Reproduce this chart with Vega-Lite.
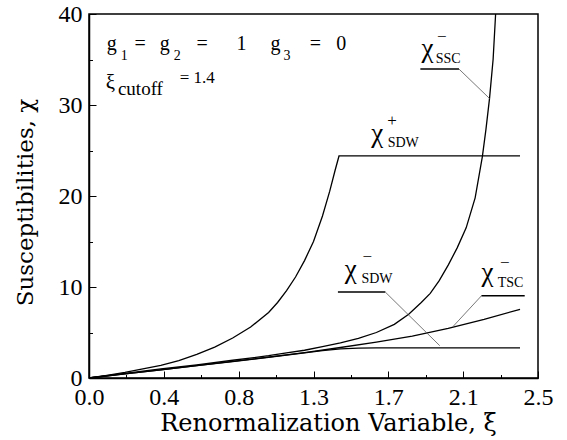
{
  "$schema": "https://vega.github.io/schema/vega-lite/v6.json",
  "width": 449,
  "height": 364,
  "autosize": {"type": "none"},
  "padding": {"left": 89, "top": 14, "right": 29, "bottom": 62},
  "background": "white",
  "config": {
    "view": {"stroke": "black", "strokeWidth": 1.5},
    "axis": {
      "domainColor": "black", "domainWidth": 1.5,
      "tickColor": "black", "tickWidth": 1,
      "labelFont": "Liberation Serif", "labelFontSize": 24, "labelColor": "black",
      "titleFont": "DejaVu Serif", "titleFontSize": 23, "titleFontWeight": "normal", "titleColor": "black",
      "grid": false, "labelOverlap": false, "labelFlush": false
    }
  },
  "datasets": {
    "curves": [
      {"s": "SDWp", "x": 0, "y": 0}, {"s": "SDWp", "x": 0.1, "y": 0.3}, {"s": "SDWp", "x": 0.2, "y": 0.62}, {"s": "SDWp", "x": 0.3, "y": 1.0}, {"s": "SDWp", "x": 0.4, "y": 1.38}, {"s": "SDWp", "x": 0.5, "y": 1.9}, {"s": "SDWp", "x": 0.6, "y": 2.6}, {"s": "SDWp", "x": 0.7, "y": 3.4}, {"s": "SDWp", "x": 0.8, "y": 4.4}, {"s": "SDWp", "x": 0.9, "y": 5.6}, {"s": "SDWp", "x": 1.0, "y": 7.2}, {"s": "SDWp", "x": 1.05, "y": 8.3}, {"s": "SDWp", "x": 1.1, "y": 9.6}, {"s": "SDWp", "x": 1.15, "y": 11.1}, {"s": "SDWp", "x": 1.2, "y": 12.9}, {"s": "SDWp", "x": 1.25, "y": 15.0}, {"s": "SDWp", "x": 1.3, "y": 17.8}, {"s": "SDWp", "x": 1.34, "y": 20.5}, {"s": "SDWp", "x": 1.37, "y": 22.8}, {"s": "SDWp", "x": 1.392, "y": 24.4}, {"s": "SDWp", "x": 2.4, "y": 24.4},
      {"s": "SSC", "x": 0, "y": 0}, {"s": "SSC", "x": 0.2, "y": 0.5}, {"s": "SSC", "x": 0.4, "y": 1.0}, {"s": "SSC", "x": 0.6, "y": 1.45}, {"s": "SSC", "x": 0.8, "y": 1.95}, {"s": "SSC", "x": 1.0, "y": 2.45}, {"s": "SSC", "x": 1.1, "y": 2.75}, {"s": "SSC", "x": 1.2, "y": 3.05}, {"s": "SSC", "x": 1.3, "y": 3.45}, {"s": "SSC", "x": 1.4, "y": 3.85}, {"s": "SSC", "x": 1.5, "y": 4.35}, {"s": "SSC", "x": 1.6, "y": 5.0}, {"s": "SSC", "x": 1.7, "y": 5.9}, {"s": "SSC", "x": 1.78, "y": 7.0}, {"s": "SSC", "x": 1.85, "y": 8.3}, {"s": "SSC", "x": 1.9, "y": 9.3}, {"s": "SSC", "x": 1.95, "y": 10.7}, {"s": "SSC", "x": 2.0, "y": 12.4}, {"s": "SSC", "x": 2.05, "y": 14.3}, {"s": "SSC", "x": 2.1, "y": 16.5}, {"s": "SSC", "x": 2.15, "y": 19.8}, {"s": "SSC", "x": 2.19, "y": 24.3}, {"s": "SSC", "x": 2.21, "y": 27.3}, {"s": "SSC", "x": 2.23, "y": 30.7}, {"s": "SSC", "x": 2.25, "y": 35.0}, {"s": "SSC", "x": 2.264, "y": 40},
      {"s": "TSC", "x": 0, "y": 0}, {"s": "TSC", "x": 0.2, "y": 0.45}, {"s": "TSC", "x": 0.4, "y": 0.9}, {"s": "TSC", "x": 0.6, "y": 1.35}, {"s": "TSC", "x": 0.8, "y": 1.82}, {"s": "TSC", "x": 1.0, "y": 2.3}, {"s": "TSC", "x": 1.2, "y": 2.8}, {"s": "TSC", "x": 1.4, "y": 3.35}, {"s": "TSC", "x": 1.6, "y": 3.95}, {"s": "TSC", "x": 1.8, "y": 4.6}, {"s": "TSC", "x": 2.0, "y": 5.45}, {"s": "TSC", "x": 2.2, "y": 6.45}, {"s": "TSC", "x": 2.4, "y": 7.55},
      {"s": "SDWm", "x": 0, "y": 0}, {"s": "SDWm", "x": 0.2, "y": 0.45}, {"s": "SDWm", "x": 0.4, "y": 0.9}, {"s": "SDWm", "x": 0.6, "y": 1.35}, {"s": "SDWm", "x": 0.8, "y": 1.8}, {"s": "SDWm", "x": 1.0, "y": 2.28}, {"s": "SDWm", "x": 1.2, "y": 2.75}, {"s": "SDWm", "x": 1.3, "y": 3.0}, {"s": "SDWm", "x": 1.4, "y": 3.2}, {"s": "SDWm", "x": 1.5, "y": 3.28}, {"s": "SDWm", "x": 1.6, "y": 3.3}, {"s": "SDWm", "x": 2.4, "y": 3.3}
    ],
    "underlines": [
      {"x": 1.845, "y": 33.95, "x2": 2.06, "y2": 33.95},
      {"x": 1.386, "y": 9.44, "x2": 1.65, "y2": 9.44},
      {"x": 2.185, "y": 9.03, "x2": 2.426, "y2": 9.03}
    ],
    "pointers": [
      {"x": 2.06, "y": 33.95, "x2": 2.231, "y2": 30.7},
      {"x": 1.65, "y": 9.44, "x2": 1.953, "y2": 3.55},
      {"x": 2.185, "y": 9.03, "x2": 2.027, "y2": 5.66}
    ],
    "labels": [
      {"k": "chi", "x": 1.851, "y": 35.27, "t": "χ"},
      {"k": "chi", "x": 1.572, "y": 25.94, "t": "χ"},
      {"k": "chi", "x": 1.424, "y": 11.01, "t": "χ"},
      {"k": "chi", "x": 2.185, "y": 10.63, "t": "χ"},
      {"k": "sub", "x": 1.93, "y": 34.61, "t": "SSC"},
      {"k": "sub", "x": 1.663, "y": 25.39, "t": "SDW"},
      {"k": "sub", "x": 1.517, "y": 10.46, "t": "SDW"},
      {"k": "sub", "x": 2.276, "y": 10.02, "t": "TSC"},
      {"k": "sup", "x": 1.964, "y": 37.5, "t": "−"},
      {"k": "sup", "x": 1.688, "y": 28.24, "t": "+"},
      {"k": "sup", "x": 1.549, "y": 13.32, "t": "−"},
      {"k": "sup", "x": 2.315, "y": 12.69, "t": "−"}
    ],
    "info": [
      {"k": "main", "x": 0.0986, "y": 36.04, "t": "g"},
      {"k": "main", "x": 0.254, "y": 36.04, "t": "="},
      {"k": "main", "x": 0.394, "y": 36.04, "t": "g"},
      {"k": "main", "x": 0.598, "y": 36.04, "t": "="},
      {"k": "main", "x": 0.821, "y": 36.04, "t": "1"},
      {"k": "main", "x": 1.011, "y": 36.04, "t": "g"},
      {"k": "main", "x": 1.229, "y": 36.04, "t": "="},
      {"k": "main", "x": 1.377, "y": 36.04, "t": "0"},
      {"k": "gsub", "x": 0.177, "y": 34.94, "t": "1"},
      {"k": "gsub", "x": 0.472, "y": 34.94, "t": "2"},
      {"k": "gsub", "x": 1.083, "y": 34.94, "t": "3"},
      {"k": "xi", "x": 0.0935, "y": 31.79, "t": "ξ"},
      {"k": "cut", "x": 0.161, "y": 31.1, "t": "cutoff"},
      {"k": "val", "x": 0.505, "y": 32.38, "t": "= 1.4"}
    ]
  },
  "encoding": {
    "x": {
      "field": "x", "type": "quantitative",
      "scale": {"domain": [0, 2.5], "nice": false, "zero": false},
      "axis": {
        "values": [0, 0.2083333, 0.4166667, 0.625, 0.8333333, 1.0416667, 1.25, 1.4583333, 1.6666667, 1.875, 2.0833333, 2.2916667, 2.5],
        "labelExpr": "abs(datum.value*2.4 - round(datum.value*2.4)) < 0.01 ? format(datum.value, '.1f') : ''",
        "tickSize": {"condition": {"test": "abs(datum.value*2.4 - round(datum.value*2.4)) < 0.01", "value": -7}, "value": -3.5},
        "labelPadding": 14,
        "title": "Renormalization Variable,   ξ",
        "titleFontSize": 24,
        "titleX": 239, "titleY": 52, "titleAlign": "center", "titleBaseline": "alphabetic", "titleAnchor": "start"
      }
    },
    "y": {
      "field": "y", "type": "quantitative",
      "scale": {"domain": [0, 40], "nice": false},
      "axis": {
        "values": [0, 5, 10, 15, 20, 25, 30, 35, 40],
        "labelExpr": "datum.value % 10 === 0 ? format(datum.value, 'd') : ''",
        "tickSize": {"condition": {"test": "datum.value % 10 === 0", "value": -7}, "value": -3.5},
        "labelPadding": 14,
        "title": "Susceptibilities,  χ",
        "titleAngle": -90, "titleX": -57, "titleY": 188, "titleAlign": "center", "titleBaseline": "alphabetic", "titleAnchor": "start"
      }
    }
  },
  "layer": [
    {
      "data": {"name": "curves"},
      "mark": {"type": "line", "color": "black", "strokeWidth": 1.3},
      "encoding": {"detail": {"field": "s", "type": "nominal"}}
    },
    {
      "data": {"name": "underlines"},
      "mark": {"type": "rule", "color": "black", "strokeWidth": 1.5},
      "encoding": {"x2": {"field": "x2"}, "y2": {"field": "y2"}}
    },
    {
      "data": {"name": "pointers"},
      "mark": {"type": "rule", "color": "#555555", "strokeWidth": 0.8},
      "encoding": {"x2": {"field": "x2"}, "y2": {"field": "y2"}}
    },
    {
      "data": {"name": "labels"},
      "transform": [{"filter": "datum.k === 'chi'"}],
      "mark": {"type": "text", "font": "Liberation Serif", "fontSize": 27, "align": "left", "baseline": "alphabetic", "color": "black"},
      "encoding": {"text": {"field": "t"}}
    },
    {
      "data": {"name": "labels"},
      "transform": [{"filter": "datum.k === 'sub'"}],
      "mark": {"type": "text", "font": "Liberation Serif", "fontSize": 14, "align": "left", "baseline": "alphabetic", "color": "black"},
      "encoding": {"text": {"field": "t"}}
    },
    {
      "data": {"name": "labels"},
      "transform": [{"filter": "datum.k === 'sup'"}],
      "mark": {"type": "text", "font": "Liberation Serif", "fontSize": 17, "align": "center", "baseline": "middle", "color": "black"},
      "encoding": {"text": {"field": "t"}}
    },
    {
      "data": {"name": "info"},
      "transform": [{"filter": "datum.k === 'main'"}],
      "mark": {"type": "text", "font": "Liberation Serif", "fontSize": 20, "align": "left", "baseline": "alphabetic", "color": "black"},
      "encoding": {"text": {"field": "t"}}
    },
    {
      "data": {"name": "info"},
      "transform": [{"filter": "datum.k === 'gsub'"}],
      "mark": {"type": "text", "font": "Liberation Serif", "fontSize": 14, "align": "left", "baseline": "alphabetic", "color": "black"},
      "encoding": {"text": {"field": "t"}}
    },
    {
      "data": {"name": "info"},
      "transform": [{"filter": "datum.k === 'xi'"}],
      "mark": {"type": "text", "font": "Liberation Serif", "fontSize": 21, "align": "left", "baseline": "alphabetic", "color": "black"},
      "encoding": {"text": {"field": "t"}}
    },
    {
      "data": {"name": "info"},
      "transform": [{"filter": "datum.k === 'cut'"}],
      "mark": {"type": "text", "font": "Liberation Serif", "fontSize": 19, "align": "left", "baseline": "alphabetic", "color": "black"},
      "encoding": {"text": {"field": "t"}}
    },
    {
      "data": {"name": "info"},
      "transform": [{"filter": "datum.k === 'val'"}],
      "mark": {"type": "text", "font": "Liberation Serif", "fontSize": 17, "align": "left", "baseline": "alphabetic", "color": "black"},
      "encoding": {"text": {"field": "t"}}
    }
  ]
}
